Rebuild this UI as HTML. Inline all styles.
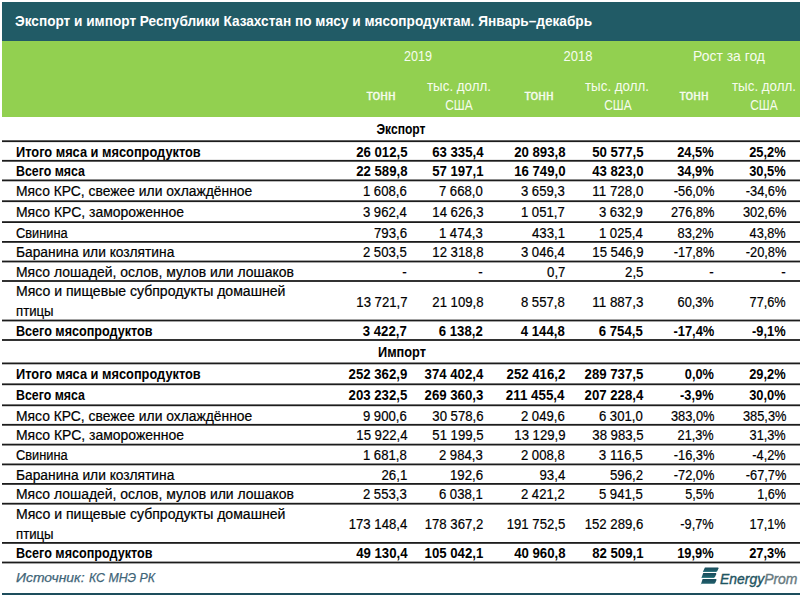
<!DOCTYPE html><html><head><meta charset="utf-8"><style>
html,body{margin:0;padding:0;background:#fff;}
body{width:800px;height:595px;position:relative;overflow:hidden;font-family:"Liberation Sans", sans-serif;}
.t{position:absolute;white-space:nowrap;line-height:1;}
</style></head><body>
<div style="position:absolute;left:2px;top:2px;width:798px;height:39px;background:#215b66"></div>
<div style="position:absolute;left:2px;top:41px;width:798px;height:76px;background:#92d050"></div>
<div style="position:absolute;left:2px;top:593px;width:798px;height:2px;background:#1d4d5c"></div>
<svg style="position:absolute;left:0;top:0" width="800" height="595"><rect x="2" y="140.30" width="798" height="1.8" fill="#1c1c1c"/><rect x="2" y="159.90" width="798" height="1.8" fill="#1c1c1c"/><rect x="2" y="179.50" width="798" height="1.8" fill="#1c1c1c"/><rect x="2" y="200.30" width="798" height="1.8" fill="#1c1c1c"/><rect x="2" y="221.20" width="798" height="1.8" fill="#1c1c1c"/><rect x="2" y="241.00" width="798" height="1.8" fill="#1c1c1c"/><rect x="2" y="260.60" width="798" height="1.8" fill="#1c1c1c"/><rect x="2" y="280.10" width="798" height="1.8" fill="#1c1c1c"/><rect x="2" y="319.60" width="798" height="1.8" fill="#1c1c1c"/><rect x="2" y="339.10" width="798" height="1.8" fill="#1c1c1c"/><rect x="2" y="362.50" width="798" height="1.8" fill="#1c1c1c"/><rect x="2" y="383.40" width="798" height="1.8" fill="#1c1c1c"/><rect x="2" y="404.40" width="798" height="1.8" fill="#1c1c1c"/><rect x="2" y="423.90" width="798" height="1.8" fill="#1c1c1c"/><rect x="2" y="443.70" width="798" height="1.8" fill="#1c1c1c"/><rect x="2" y="463.50" width="798" height="1.8" fill="#1c1c1c"/><rect x="2" y="483.00" width="798" height="1.8" fill="#1c1c1c"/><rect x="2" y="502.80" width="798" height="1.8" fill="#1c1c1c"/><rect x="2" y="542.00" width="798" height="1.8" fill="#1c1c1c"/><rect x="2" y="561.60" width="798" height="1.8" fill="#1c1c1c"/></svg>
<div class="t" id="t0" style="font-size:14.3px;top:14.10px;color:#fff;font-weight:bold;left:15.30px;transform:scaleX(0.9531);transform-origin:left">Экспорт и импорт Республики Казахстан по мясу и мясопродуктам. Январь–декабрь</div>
<div class="t" id="t1" style="font-size:14px;top:48.75px;color:#f6fcee;left:418.10px;width:0;display:flex;justify-content:center;transform:scaleX(0.8987);transform-origin:left"><span>2019</span></div>
<div class="t" id="t2" style="font-size:14px;top:48.75px;color:#f6fcee;left:578.10px;width:0;display:flex;justify-content:center;transform:scaleX(0.9276);transform-origin:left"><span>2018</span></div>
<div class="t" id="t3" style="font-size:14px;top:48.75px;color:#f6fcee;left:729.00px;width:0;display:flex;justify-content:center;transform:scaleX(0.9950);transform-origin:left"><span>Рост за год</span></div>
<div class="t" id="t4" style="font-size:14px;top:87.95px;color:#f6fcee;-webkit-text-stroke:0.3px #f6fcee;left:380.50px;width:0;display:flex;justify-content:center;transform:scaleX(0.9893);transform-origin:left"><span>тонн</span></div>
<div class="t" id="t5" style="font-size:14px;top:87.95px;color:#f6fcee;-webkit-text-stroke:0.3px #f6fcee;left:539.00px;width:0;display:flex;justify-content:center;transform:scaleX(0.9893);transform-origin:left"><span>тонн</span></div>
<div class="t" id="t6" style="font-size:14px;top:87.95px;color:#f6fcee;-webkit-text-stroke:0.3px #f6fcee;left:693.50px;width:0;display:flex;justify-content:center;transform:scaleX(0.9893);transform-origin:left"><span>тонн</span></div>
<div class="t" id="t7" style="font-size:14px;top:79.00px;color:#f6fcee;left:459.35px;width:0;display:flex;justify-content:center;transform:scaleX(0.9532);transform-origin:left"><span>тыс. долл.</span></div>
<div class="t" id="t8" style="font-size:14px;top:79.00px;color:#f6fcee;left:616.60px;width:0;display:flex;justify-content:center;transform:scaleX(0.9532);transform-origin:left"><span>тыс. долл.</span></div>
<div class="t" id="t9" style="font-size:14px;top:79.00px;color:#f6fcee;left:763.70px;width:0;display:flex;justify-content:center;transform:scaleX(0.9532);transform-origin:left"><span>тыс. долл.</span></div>
<div class="t" id="t10" style="font-size:14px;top:97.90px;color:#f6fcee;left:459.15px;width:0;display:flex;justify-content:center;transform:scaleX(0.8519);transform-origin:left"><span>США</span></div>
<div class="t" id="t11" style="font-size:14px;top:97.90px;color:#f6fcee;left:618.00px;width:0;display:flex;justify-content:center;transform:scaleX(0.8519);transform-origin:left"><span>США</span></div>
<div class="t" id="t12" style="font-size:14px;top:97.90px;color:#f6fcee;left:764.00px;width:0;display:flex;justify-content:center;transform:scaleX(0.8519);transform-origin:left"><span>США</span></div>
<div class="t" id="t13" style="font-size:14px;top:122.45px;color:#000;font-weight:bold;left:401.00px;width:0;display:flex;justify-content:center;transform:scaleX(0.8625);transform-origin:left"><span>Экспорт</span></div>
<div class="t" id="t14" style="font-size:14px;top:344.65px;color:#000;font-weight:bold;left:401.50px;width:0;display:flex;justify-content:center;transform:scaleX(0.9116);transform-origin:left"><span>Импорт</span></div>
<div class="t" id="t15" style="font-size:14px;top:144.75px;color:#000;font-weight:bold;left:15.60px;transform:scaleX(0.9146);transform-origin:left">Итого мяса и мясопродуктов</div>
<div class="t" id="t16" style="font-size:14px;top:144.75px;color:#000;font-weight:bold;right:393.00px;transform:scaleX(0.9413);transform-origin:right">26 012,5</div>
<div class="t" id="t17" style="font-size:14px;top:144.75px;color:#000;font-weight:bold;right:317.00px;transform:scaleX(0.9413);transform-origin:right">63 335,4</div>
<div class="t" id="t18" style="font-size:14px;top:144.75px;color:#000;font-weight:bold;right:235.00px;transform:scaleX(0.9413);transform-origin:right">20 893,8</div>
<div class="t" id="t19" style="font-size:14px;top:144.75px;color:#000;font-weight:bold;right:157.00px;transform:scaleX(0.9413);transform-origin:right">50 577,5</div>
<div class="t" id="t20" style="font-size:14px;top:144.75px;color:#000;font-weight:bold;right:86.00px;transform:scaleX(0.9191);transform-origin:right">24,5%</div>
<div class="t" id="t21" style="font-size:14px;top:144.75px;color:#000;font-weight:bold;right:14.00px;transform:scaleX(0.9191);transform-origin:right">25,2%</div>
<div class="t" id="t22" style="font-size:14px;top:164.35px;color:#000;font-weight:bold;left:15.60px;transform:scaleX(0.8841);transform-origin:left">Всего мяса</div>
<div class="t" id="t23" style="font-size:14px;top:164.35px;color:#000;font-weight:bold;right:393.00px;transform:scaleX(0.9413);transform-origin:right">22 589,8</div>
<div class="t" id="t24" style="font-size:14px;top:164.35px;color:#000;font-weight:bold;right:317.00px;transform:scaleX(0.9413);transform-origin:right">57 197,1</div>
<div class="t" id="t25" style="font-size:14px;top:164.35px;color:#000;font-weight:bold;right:235.00px;transform:scaleX(0.9413);transform-origin:right">16 749,0</div>
<div class="t" id="t26" style="font-size:14px;top:164.35px;color:#000;font-weight:bold;right:157.00px;transform:scaleX(0.9413);transform-origin:right">43 823,0</div>
<div class="t" id="t27" style="font-size:14px;top:164.35px;color:#000;font-weight:bold;right:86.00px;transform:scaleX(0.9191);transform-origin:right">34,9%</div>
<div class="t" id="t28" style="font-size:14px;top:164.35px;color:#000;font-weight:bold;right:14.00px;transform:scaleX(0.9191);transform-origin:right">30,5%</div>
<div class="t" id="t29" style="font-size:14px;top:183.95px;color:#000;-webkit-text-stroke:0.2px #000;left:15.60px;transform:scaleX(0.9900);transform-origin:left">Мясо КРС, свежее или охлаждённое</div>
<div class="t" id="t30" style="font-size:14px;top:183.95px;color:#000;-webkit-text-stroke:0.2px #000;right:393.00px;transform:scaleX(0.9377);transform-origin:right">1 608,6</div>
<div class="t" id="t31" style="font-size:14px;top:183.95px;color:#000;-webkit-text-stroke:0.2px #000;right:317.00px;transform:scaleX(0.9377);transform-origin:right">7 668,0</div>
<div class="t" id="t32" style="font-size:14px;top:183.95px;color:#000;-webkit-text-stroke:0.2px #000;right:235.00px;transform:scaleX(0.9377);transform-origin:right">3 659,3</div>
<div class="t" id="t33" style="font-size:14px;top:183.95px;color:#000;-webkit-text-stroke:0.2px #000;right:157.00px;transform:scaleX(0.9573);transform-origin:right">11 728,0</div>
<div class="t" id="t34" style="font-size:14px;top:183.95px;color:#000;-webkit-text-stroke:0.2px #000;right:86.00px;transform:scaleX(0.9158);transform-origin:right">-56,0%</div>
<div class="t" id="t35" style="font-size:14px;top:183.95px;color:#000;-webkit-text-stroke:0.2px #000;right:14.00px;transform:scaleX(0.9158);transform-origin:right">-34,6%</div>
<div class="t" id="t36" style="font-size:14px;top:204.75px;color:#000;-webkit-text-stroke:0.2px #000;left:15.60px;transform:scaleX(0.9968);transform-origin:left">Мясо КРС, замороженное</div>
<div class="t" id="t37" style="font-size:14px;top:204.75px;color:#000;-webkit-text-stroke:0.2px #000;right:393.00px;transform:scaleX(0.9377);transform-origin:right">3 962,4</div>
<div class="t" id="t38" style="font-size:14px;top:204.75px;color:#000;-webkit-text-stroke:0.2px #000;right:317.00px;transform:scaleX(0.9392);transform-origin:right">14 626,3</div>
<div class="t" id="t39" style="font-size:14px;top:204.75px;color:#000;-webkit-text-stroke:0.2px #000;right:235.00px;transform:scaleX(0.9377);transform-origin:right">1 051,7</div>
<div class="t" id="t40" style="font-size:14px;top:204.75px;color:#000;-webkit-text-stroke:0.2px #000;right:157.00px;transform:scaleX(0.9377);transform-origin:right">3 632,9</div>
<div class="t" id="t41" style="font-size:14px;top:204.75px;color:#000;-webkit-text-stroke:0.2px #000;right:86.00px;transform:scaleX(0.9171);transform-origin:right">276,8%</div>
<div class="t" id="t42" style="font-size:14px;top:204.75px;color:#000;-webkit-text-stroke:0.2px #000;right:14.00px;transform:scaleX(0.9171);transform-origin:right">302,6%</div>
<div class="t" id="t43" style="font-size:14px;top:225.65px;color:#000;-webkit-text-stroke:0.2px #000;left:15.60px;transform:scaleX(0.9161);transform-origin:left">Свинина</div>
<div class="t" id="t44" style="font-size:14px;top:225.65px;color:#000;-webkit-text-stroke:0.2px #000;right:393.00px;transform:scaleX(0.9457);transform-origin:right">793,6</div>
<div class="t" id="t45" style="font-size:14px;top:225.65px;color:#000;-webkit-text-stroke:0.2px #000;right:317.00px;transform:scaleX(0.9377);transform-origin:right">1 474,3</div>
<div class="t" id="t46" style="font-size:14px;top:225.65px;color:#000;-webkit-text-stroke:0.2px #000;right:235.00px;transform:scaleX(0.9457);transform-origin:right">433,1</div>
<div class="t" id="t47" style="font-size:14px;top:225.65px;color:#000;-webkit-text-stroke:0.2px #000;right:157.00px;transform:scaleX(0.9377);transform-origin:right">1 025,4</div>
<div class="t" id="t48" style="font-size:14px;top:225.65px;color:#000;-webkit-text-stroke:0.2px #000;right:86.00px;transform:scaleX(0.9110);transform-origin:right">83,2%</div>
<div class="t" id="t49" style="font-size:14px;top:225.65px;color:#000;-webkit-text-stroke:0.2px #000;right:14.00px;transform:scaleX(0.9110);transform-origin:right">43,8%</div>
<div class="t" id="t50" style="font-size:14px;top:245.45px;color:#000;-webkit-text-stroke:0.2px #000;left:15.60px;transform:scaleX(0.9839);transform-origin:left">Баранина или козлятина</div>
<div class="t" id="t51" style="font-size:14px;top:245.45px;color:#000;-webkit-text-stroke:0.2px #000;right:393.00px;transform:scaleX(0.9377);transform-origin:right">2 503,5</div>
<div class="t" id="t52" style="font-size:14px;top:245.45px;color:#000;-webkit-text-stroke:0.2px #000;right:317.00px;transform:scaleX(0.9392);transform-origin:right">12 318,8</div>
<div class="t" id="t53" style="font-size:14px;top:245.45px;color:#000;-webkit-text-stroke:0.2px #000;right:235.00px;transform:scaleX(0.9377);transform-origin:right">3 046,4</div>
<div class="t" id="t54" style="font-size:14px;top:245.45px;color:#000;-webkit-text-stroke:0.2px #000;right:157.00px;transform:scaleX(0.9392);transform-origin:right">15 546,9</div>
<div class="t" id="t55" style="font-size:14px;top:245.45px;color:#000;-webkit-text-stroke:0.2px #000;right:86.00px;transform:scaleX(0.9158);transform-origin:right">-17,8%</div>
<div class="t" id="t56" style="font-size:14px;top:245.45px;color:#000;-webkit-text-stroke:0.2px #000;right:14.00px;transform:scaleX(0.9158);transform-origin:right">-20,8%</div>
<div class="t" id="t57" style="font-size:14px;top:265.05px;color:#000;-webkit-text-stroke:0.2px #000;left:15.60px;transform:scaleX(0.9956);transform-origin:left">Мясо лошадей, ослов, мулов или лошаков</div>
<div class="t" id="t58" style="font-size:14px;top:265.05px;color:#000;-webkit-text-stroke:0.2px #000;right:393.00px;transform:scaleX(0.9530);transform-origin:right">-</div>
<div class="t" id="t59" style="font-size:14px;top:265.05px;color:#000;-webkit-text-stroke:0.2px #000;right:317.00px;transform:scaleX(0.9530);transform-origin:right">-</div>
<div class="t" id="t60" style="font-size:14px;top:265.05px;color:#000;-webkit-text-stroke:0.2px #000;right:235.00px;transform:scaleX(0.9447);transform-origin:right">0,7</div>
<div class="t" id="t61" style="font-size:14px;top:265.05px;color:#000;-webkit-text-stroke:0.2px #000;right:157.00px;transform:scaleX(0.9447);transform-origin:right">2,5</div>
<div class="t" id="t62" style="font-size:14px;top:265.05px;color:#000;-webkit-text-stroke:0.2px #000;right:86.00px;transform:scaleX(0.9530);transform-origin:right">-</div>
<div class="t" id="t63" style="font-size:14px;top:265.05px;color:#000;-webkit-text-stroke:0.2px #000;right:14.00px;transform:scaleX(0.9530);transform-origin:right">-</div>
<div class="t" id="t64" style="font-size:14px;top:284.45px;color:#000;-webkit-text-stroke:0.2px #000;left:15.60px;transform:scaleX(1.0041);transform-origin:left">Мясо и пищевые субпродукты домашней</div>
<div class="t" id="t65" style="font-size:14px;top:304.15px;color:#000;-webkit-text-stroke:0.2px #000;left:15.60px;transform:scaleX(0.9422);transform-origin:left">птицы</div>
<div class="t" id="t66" style="font-size:14px;top:294.65px;color:#000;-webkit-text-stroke:0.2px #000;right:393.00px;transform:scaleX(0.9392);transform-origin:right">13 721,7</div>
<div class="t" id="t67" style="font-size:14px;top:294.65px;color:#000;-webkit-text-stroke:0.2px #000;right:317.00px;transform:scaleX(0.9392);transform-origin:right">21 109,8</div>
<div class="t" id="t68" style="font-size:14px;top:294.65px;color:#000;-webkit-text-stroke:0.2px #000;right:235.00px;transform:scaleX(0.9377);transform-origin:right">8 557,8</div>
<div class="t" id="t69" style="font-size:14px;top:294.65px;color:#000;-webkit-text-stroke:0.2px #000;right:157.00px;transform:scaleX(0.9573);transform-origin:right">11 887,3</div>
<div class="t" id="t70" style="font-size:14px;top:294.65px;color:#000;-webkit-text-stroke:0.2px #000;right:86.00px;transform:scaleX(0.9110);transform-origin:right">60,3%</div>
<div class="t" id="t71" style="font-size:14px;top:294.65px;color:#000;-webkit-text-stroke:0.2px #000;right:14.00px;transform:scaleX(0.9110);transform-origin:right">77,6%</div>
<div class="t" id="t72" style="font-size:14px;top:324.05px;color:#000;font-weight:bold;left:15.60px;transform:scaleX(0.8991);transform-origin:left">Всего мясопродуктов</div>
<div class="t" id="t73" style="font-size:14px;top:324.05px;color:#000;font-weight:bold;right:393.00px;transform:scaleX(0.9402);transform-origin:right">3 422,7</div>
<div class="t" id="t74" style="font-size:14px;top:324.05px;color:#000;font-weight:bold;right:317.00px;transform:scaleX(0.9402);transform-origin:right">6 138,2</div>
<div class="t" id="t75" style="font-size:14px;top:324.05px;color:#000;font-weight:bold;right:235.00px;transform:scaleX(0.9402);transform-origin:right">4 144,8</div>
<div class="t" id="t76" style="font-size:14px;top:324.05px;color:#000;font-weight:bold;right:157.00px;transform:scaleX(0.9402);transform-origin:right">6 754,5</div>
<div class="t" id="t77" style="font-size:14px;top:324.05px;color:#000;font-weight:bold;right:86.00px;transform:scaleX(0.9230);transform-origin:right">-17,4%</div>
<div class="t" id="t78" style="font-size:14px;top:324.05px;color:#000;font-weight:bold;right:14.00px;transform:scaleX(0.9177);transform-origin:right">-9,1%</div>
<div class="t" id="t79" style="font-size:14px;top:366.95px;color:#000;font-weight:bold;left:15.60px;transform:scaleX(0.9146);transform-origin:left">Итого мяса и мясопродуктов</div>
<div class="t" id="t80" style="font-size:14px;top:366.95px;color:#000;font-weight:bold;right:393.00px;transform:scaleX(0.9419);transform-origin:right">252 362,9</div>
<div class="t" id="t81" style="font-size:14px;top:366.95px;color:#000;font-weight:bold;right:317.00px;transform:scaleX(0.9419);transform-origin:right">374 402,4</div>
<div class="t" id="t82" style="font-size:14px;top:366.95px;color:#000;font-weight:bold;right:235.00px;transform:scaleX(0.9419);transform-origin:right">252 416,2</div>
<div class="t" id="t83" style="font-size:14px;top:366.95px;color:#000;font-weight:bold;right:157.00px;transform:scaleX(0.9419);transform-origin:right">289 737,5</div>
<div class="t" id="t84" style="font-size:14px;top:366.95px;color:#000;font-weight:bold;right:86.00px;transform:scaleX(0.9121);transform-origin:right">0,0%</div>
<div class="t" id="t85" style="font-size:14px;top:366.95px;color:#000;font-weight:bold;right:14.00px;transform:scaleX(0.9191);transform-origin:right">29,2%</div>
<div class="t" id="t86" style="font-size:14px;top:387.85px;color:#000;font-weight:bold;left:15.60px;transform:scaleX(0.8841);transform-origin:left">Всего мяса</div>
<div class="t" id="t87" style="font-size:14px;top:387.85px;color:#000;font-weight:bold;right:393.00px;transform:scaleX(0.9419);transform-origin:right">203 232,5</div>
<div class="t" id="t88" style="font-size:14px;top:387.85px;color:#000;font-weight:bold;right:317.00px;transform:scaleX(0.9419);transform-origin:right">269 360,3</div>
<div class="t" id="t89" style="font-size:14px;top:387.85px;color:#000;font-weight:bold;right:235.00px;transform:scaleX(0.9539);transform-origin:right">211 455,4</div>
<div class="t" id="t90" style="font-size:14px;top:387.85px;color:#000;font-weight:bold;right:157.00px;transform:scaleX(0.9419);transform-origin:right">207 228,4</div>
<div class="t" id="t91" style="font-size:14px;top:387.85px;color:#000;font-weight:bold;right:86.00px;transform:scaleX(0.9177);transform-origin:right">-3,9%</div>
<div class="t" id="t92" style="font-size:14px;top:387.85px;color:#000;font-weight:bold;right:14.00px;transform:scaleX(0.9191);transform-origin:right">30,0%</div>
<div class="t" id="t93" style="font-size:14px;top:408.85px;color:#000;-webkit-text-stroke:0.2px #000;left:15.60px;transform:scaleX(0.9900);transform-origin:left">Мясо КРС, свежее или охлаждённое</div>
<div class="t" id="t94" style="font-size:14px;top:408.85px;color:#000;-webkit-text-stroke:0.2px #000;right:393.00px;transform:scaleX(0.9377);transform-origin:right">9 900,6</div>
<div class="t" id="t95" style="font-size:14px;top:408.85px;color:#000;-webkit-text-stroke:0.2px #000;right:317.00px;transform:scaleX(0.9392);transform-origin:right">30 578,6</div>
<div class="t" id="t96" style="font-size:14px;top:408.85px;color:#000;-webkit-text-stroke:0.2px #000;right:235.00px;transform:scaleX(0.9377);transform-origin:right">2 049,6</div>
<div class="t" id="t97" style="font-size:14px;top:408.85px;color:#000;-webkit-text-stroke:0.2px #000;right:157.00px;transform:scaleX(0.9377);transform-origin:right">6 301,0</div>
<div class="t" id="t98" style="font-size:14px;top:408.85px;color:#000;-webkit-text-stroke:0.2px #000;right:86.00px;transform:scaleX(0.9171);transform-origin:right">383,0%</div>
<div class="t" id="t99" style="font-size:14px;top:408.85px;color:#000;-webkit-text-stroke:0.2px #000;right:14.00px;transform:scaleX(0.9171);transform-origin:right">385,3%</div>
<div class="t" id="t100" style="font-size:14px;top:428.35px;color:#000;-webkit-text-stroke:0.2px #000;left:15.60px;transform:scaleX(0.9968);transform-origin:left">Мясо КРС, замороженное</div>
<div class="t" id="t101" style="font-size:14px;top:428.35px;color:#000;-webkit-text-stroke:0.2px #000;right:393.00px;transform:scaleX(0.9392);transform-origin:right">15 922,4</div>
<div class="t" id="t102" style="font-size:14px;top:428.35px;color:#000;-webkit-text-stroke:0.2px #000;right:317.00px;transform:scaleX(0.9392);transform-origin:right">51 199,5</div>
<div class="t" id="t103" style="font-size:14px;top:428.35px;color:#000;-webkit-text-stroke:0.2px #000;right:235.00px;transform:scaleX(0.9392);transform-origin:right">13 129,9</div>
<div class="t" id="t104" style="font-size:14px;top:428.35px;color:#000;-webkit-text-stroke:0.2px #000;right:157.00px;transform:scaleX(0.9392);transform-origin:right">38 983,5</div>
<div class="t" id="t105" style="font-size:14px;top:428.35px;color:#000;-webkit-text-stroke:0.2px #000;right:86.00px;transform:scaleX(0.9110);transform-origin:right">21,3%</div>
<div class="t" id="t106" style="font-size:14px;top:428.35px;color:#000;-webkit-text-stroke:0.2px #000;right:14.00px;transform:scaleX(0.9110);transform-origin:right">31,3%</div>
<div class="t" id="t107" style="font-size:14px;top:448.15px;color:#000;-webkit-text-stroke:0.2px #000;left:15.60px;transform:scaleX(0.9161);transform-origin:left">Свинина</div>
<div class="t" id="t108" style="font-size:14px;top:448.15px;color:#000;-webkit-text-stroke:0.2px #000;right:393.00px;transform:scaleX(0.9377);transform-origin:right">1 681,8</div>
<div class="t" id="t109" style="font-size:14px;top:448.15px;color:#000;-webkit-text-stroke:0.2px #000;right:317.00px;transform:scaleX(0.9377);transform-origin:right">2 984,3</div>
<div class="t" id="t110" style="font-size:14px;top:448.15px;color:#000;-webkit-text-stroke:0.2px #000;right:235.00px;transform:scaleX(0.9377);transform-origin:right">2 008,8</div>
<div class="t" id="t111" style="font-size:14px;top:448.15px;color:#000;-webkit-text-stroke:0.2px #000;right:157.00px;transform:scaleX(0.9592);transform-origin:right">3 116,5</div>
<div class="t" id="t112" style="font-size:14px;top:448.15px;color:#000;-webkit-text-stroke:0.2px #000;right:86.00px;transform:scaleX(0.9158);transform-origin:right">-16,3%</div>
<div class="t" id="t113" style="font-size:14px;top:448.15px;color:#000;-webkit-text-stroke:0.2px #000;right:14.00px;transform:scaleX(0.9089);transform-origin:right">-4,2%</div>
<div class="t" id="t114" style="font-size:14px;top:467.95px;color:#000;-webkit-text-stroke:0.2px #000;left:15.60px;transform:scaleX(0.9839);transform-origin:left">Баранина или козлятина</div>
<div class="t" id="t115" style="font-size:14px;top:467.95px;color:#000;-webkit-text-stroke:0.2px #000;right:393.00px;transform:scaleX(0.9456);transform-origin:right">26,1</div>
<div class="t" id="t116" style="font-size:14px;top:467.95px;color:#000;-webkit-text-stroke:0.2px #000;right:317.00px;transform:scaleX(0.9457);transform-origin:right">192,6</div>
<div class="t" id="t117" style="font-size:14px;top:467.95px;color:#000;-webkit-text-stroke:0.2px #000;right:235.00px;transform:scaleX(0.9456);transform-origin:right">93,4</div>
<div class="t" id="t118" style="font-size:14px;top:467.95px;color:#000;-webkit-text-stroke:0.2px #000;right:157.00px;transform:scaleX(0.9457);transform-origin:right">596,2</div>
<div class="t" id="t119" style="font-size:14px;top:467.95px;color:#000;-webkit-text-stroke:0.2px #000;right:86.00px;transform:scaleX(0.9158);transform-origin:right">-72,0%</div>
<div class="t" id="t120" style="font-size:14px;top:467.95px;color:#000;-webkit-text-stroke:0.2px #000;right:14.00px;transform:scaleX(0.9158);transform-origin:right">-67,7%</div>
<div class="t" id="t121" style="font-size:14px;top:487.45px;color:#000;-webkit-text-stroke:0.2px #000;left:15.60px;transform:scaleX(0.9956);transform-origin:left">Мясо лошадей, ослов, мулов или лошаков</div>
<div class="t" id="t122" style="font-size:14px;top:487.45px;color:#000;-webkit-text-stroke:0.2px #000;right:393.00px;transform:scaleX(0.9377);transform-origin:right">2 553,3</div>
<div class="t" id="t123" style="font-size:14px;top:487.45px;color:#000;-webkit-text-stroke:0.2px #000;right:317.00px;transform:scaleX(0.9377);transform-origin:right">6 038,1</div>
<div class="t" id="t124" style="font-size:14px;top:487.45px;color:#000;-webkit-text-stroke:0.2px #000;right:235.00px;transform:scaleX(0.9377);transform-origin:right">2 421,2</div>
<div class="t" id="t125" style="font-size:14px;top:487.45px;color:#000;-webkit-text-stroke:0.2px #000;right:157.00px;transform:scaleX(0.9377);transform-origin:right">5 941,5</div>
<div class="t" id="t126" style="font-size:14px;top:487.45px;color:#000;-webkit-text-stroke:0.2px #000;right:86.00px;transform:scaleX(0.9020);transform-origin:right">5,5%</div>
<div class="t" id="t127" style="font-size:14px;top:487.45px;color:#000;-webkit-text-stroke:0.2px #000;right:14.00px;transform:scaleX(0.9020);transform-origin:right">1,6%</div>
<div class="t" id="t128" style="font-size:14px;top:507.15px;color:#000;-webkit-text-stroke:0.2px #000;left:15.60px;transform:scaleX(1.0041);transform-origin:left">Мясо и пищевые субпродукты домашней</div>
<div class="t" id="t129" style="font-size:14px;top:526.85px;color:#000;-webkit-text-stroke:0.2px #000;left:15.60px;transform:scaleX(0.9422);transform-origin:left">птицы</div>
<div class="t" id="t130" style="font-size:14px;top:517.35px;color:#000;-webkit-text-stroke:0.2px #000;right:393.00px;transform:scaleX(0.9401);transform-origin:right">173 148,4</div>
<div class="t" id="t131" style="font-size:14px;top:517.35px;color:#000;-webkit-text-stroke:0.2px #000;right:317.00px;transform:scaleX(0.9401);transform-origin:right">178 367,2</div>
<div class="t" id="t132" style="font-size:14px;top:517.35px;color:#000;-webkit-text-stroke:0.2px #000;right:235.00px;transform:scaleX(0.9401);transform-origin:right">191 752,5</div>
<div class="t" id="t133" style="font-size:14px;top:517.35px;color:#000;-webkit-text-stroke:0.2px #000;right:157.00px;transform:scaleX(0.9401);transform-origin:right">152 289,6</div>
<div class="t" id="t134" style="font-size:14px;top:517.35px;color:#000;-webkit-text-stroke:0.2px #000;right:86.00px;transform:scaleX(0.9089);transform-origin:right">-9,7%</div>
<div class="t" id="t135" style="font-size:14px;top:517.35px;color:#000;-webkit-text-stroke:0.2px #000;right:14.00px;transform:scaleX(0.9110);transform-origin:right">17,1%</div>
<div class="t" id="t136" style="font-size:14px;top:546.45px;color:#000;font-weight:bold;left:15.60px;transform:scaleX(0.8991);transform-origin:left">Всего мясопродуктов</div>
<div class="t" id="t137" style="font-size:14px;top:546.45px;color:#000;font-weight:bold;right:393.00px;transform:scaleX(0.9413);transform-origin:right">49 130,4</div>
<div class="t" id="t138" style="font-size:14px;top:546.45px;color:#000;font-weight:bold;right:317.00px;transform:scaleX(0.9419);transform-origin:right">105 042,1</div>
<div class="t" id="t139" style="font-size:14px;top:546.45px;color:#000;font-weight:bold;right:235.00px;transform:scaleX(0.9413);transform-origin:right">40 960,8</div>
<div class="t" id="t140" style="font-size:14px;top:546.45px;color:#000;font-weight:bold;right:157.00px;transform:scaleX(0.9413);transform-origin:right">82 509,1</div>
<div class="t" id="t141" style="font-size:14px;top:546.45px;color:#000;font-weight:bold;right:86.00px;transform:scaleX(0.9191);transform-origin:right">19,9%</div>
<div class="t" id="t142" style="font-size:14px;top:546.45px;color:#000;font-weight:bold;right:14.00px;transform:scaleX(0.9191);transform-origin:right">27,3%</div>
<div class="t" id="t143" style="font-size:13.5px;top:571.17px;color:#3f6578;font-style:italic;-webkit-text-stroke:0.25px #3f6578;left:15.75px;transform:scaleX(1.0308);transform-origin:left">Источник:</div>
<div class="t" id="t144" style="font-size:13.5px;top:571.17px;color:#3f6578;font-style:italic;-webkit-text-stroke:0.25px #3f6578;left:89.20px;transform:scaleX(0.9117);transform-origin:left">КС МНЭ РК</div>
<svg style="position:absolute;left:0;top:0" width="800" height="595">
<defs><linearGradient id="lg" x1="0" y1="0" x2="0" y2="1"><stop offset="0" stop-color="#1a4c5c"/><stop offset="0.7" stop-color="#1f5e6a"/><stop offset="1" stop-color="#3a8a90"/></linearGradient></defs>
<path d="M704.9 567.4 L717.8 567.4 Q718.9 567.5 718.5 568.5 L717.2 571.3 Q716.8 572.1 715.9 572.1 L702.8 572.1 Z" fill="url(#lg)"/>
<path d="M703.2 573.1 L715.6 573.1 Q716.6 573.2 716.2 574.2 L715.0 577.1 Q714.6 577.9 713.8 577.9 L701.4 577.9 Z" fill="url(#lg)"/>
<path d="M702.6 579.1 L715.8 579.1 Q716.8 579.2 716.4 580.2 L715.2 583.0 Q714.8 583.8 714.0 583.8 L701.4 583.8 L700.6 585.2 Z" fill="url(#lg)"/>
</svg>
<div class="t" style="left:720.4px;top:571.6px;font-size:14.7px;font-style:italic;transform:scaleX(0.949);transform-origin:left;line-height:1"><span style="color:#1f5562;-webkit-text-stroke:0.4px #1f5562">Energy</span><span style="color:#687a7f;-webkit-text-stroke:0.4px #687a7f">Prom</span></div>

</body></html>
